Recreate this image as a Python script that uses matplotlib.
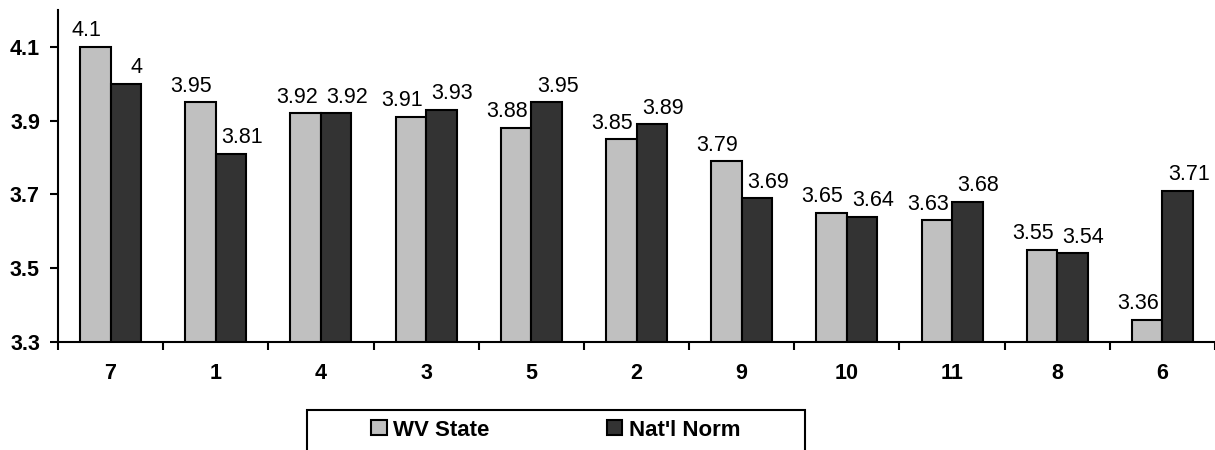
import numpy as np
import matplotlib.pyplot as plt
from matplotlib.ticker import FixedLocator
from matplotlib.patches import Rectangle

plt.rcParams['font.family'] = ['Liberation Sans', 'DejaVu Sans']

# Données du graphique
categories = ["7", "1", "4", "3", "5", "2", "9", "10", "11", "8", "6"]
wv_state = [4.1, 3.95, 3.92, 3.91, 3.88, 3.85, 3.79, 3.65, 3.63, 3.55, 3.36]
natl_norm = [4, 3.81, 3.92, 3.93, 3.95, 3.89, 3.69, 3.64, 3.68, 3.54, 3.71]
wv_labels = ["4.1", "3.95", "3.92", "3.91", "3.88", "3.85", "3.79", "3.65", "3.63", "3.55", "3.36"]
nn_labels = ["4", "3.81", "3.92", "3.93", "3.95", "3.89", "3.69", "3.64", "3.68", "3.54", "3.71"]

fig = plt.figure(figsize=(12.15, 4.5), dpi=100)
ax = fig.add_axes([58 / 1215, 1 - 342 / 450, 1 - 58 / 1215, (342 - 10) / 450])

x = np.arange(len(categories))
w = 0.29
b1 = ax.bar(x - w / 2, wv_state, width=w, bottom=0, color="#C0C0C0", edgecolor="black",
            linewidth=1.5, label="WV State")
b2 = ax.bar(x + w / 2, natl_norm, width=w, bottom=0, color="#333333", edgecolor="black",
            linewidth=1.5, label="Nat'l Norm")

# Étiquettes de valeurs
for xi, v, lab in zip(x, wv_state, wv_labels):
    ax.annotate(lab, (xi - w / 2, v), xytext=(-6.5, 4), textcoords="offset points",
                ha="center", va="bottom", fontsize=15.5)
for xi, v, lab in zip(x, natl_norm, nn_labels):
    ax.annotate(lab, (xi + w / 2, v), xytext=(8, 4), textcoords="offset points",
                ha="center", va="bottom", fontsize=15.5)

ax.set_ylim(3.3, 4.2)
ax.set_xlim(-0.5, len(categories) - 0.5)
ax.set_yticks([3.3, 3.5, 3.7, 3.9, 4.1])
ax.set_yticklabels(["3.3", "3.5", "3.7", "3.9", "4.1"], fontsize=15.5, fontweight="bold")
ax.set_xticks(x)
ax.set_xticklabels(categories, fontsize=15.5, fontweight="bold")
ax.xaxis.set_minor_locator(FixedLocator(np.arange(-0.5, len(categories), 1)))
ax.tick_params(axis="x", which="major", length=0, pad=15)
ax.tick_params(axis="x", which="minor", length=6, width=1.5, direction="out")
ax.tick_params(axis="y", length=6, width=1.5, direction="out", pad=7)

for s in ["top", "right"]:
    ax.spines[s].set_visible(False)
for s in ["left", "bottom"]:
    ax.spines[s].set_linewidth(1.5)

# Cadre de la légende (coupé en bas comme dans l'original)
fig.patches.append(Rectangle((307 / 1215, -0.05), 498 / 1215, 0.05 + 40 / 450,
                             transform=fig.transFigure, facecolor="white",
                             edgecolor="black", linewidth=1.5))
leg = fig.legend(handles=[b1, b2], loc="center",
                 bbox_to_anchor=(556 / 1215, 1 - 430 / 450),
                 ncol=2, frameon=False,
                 prop={"size": 16, "weight": "bold"}, handlelength=0.68,
                 handleheight=0.68, handletextpad=0.3, borderpad=0,
                 columnspacing=5.3)

plt.savefig("out.png", dpi=100)
